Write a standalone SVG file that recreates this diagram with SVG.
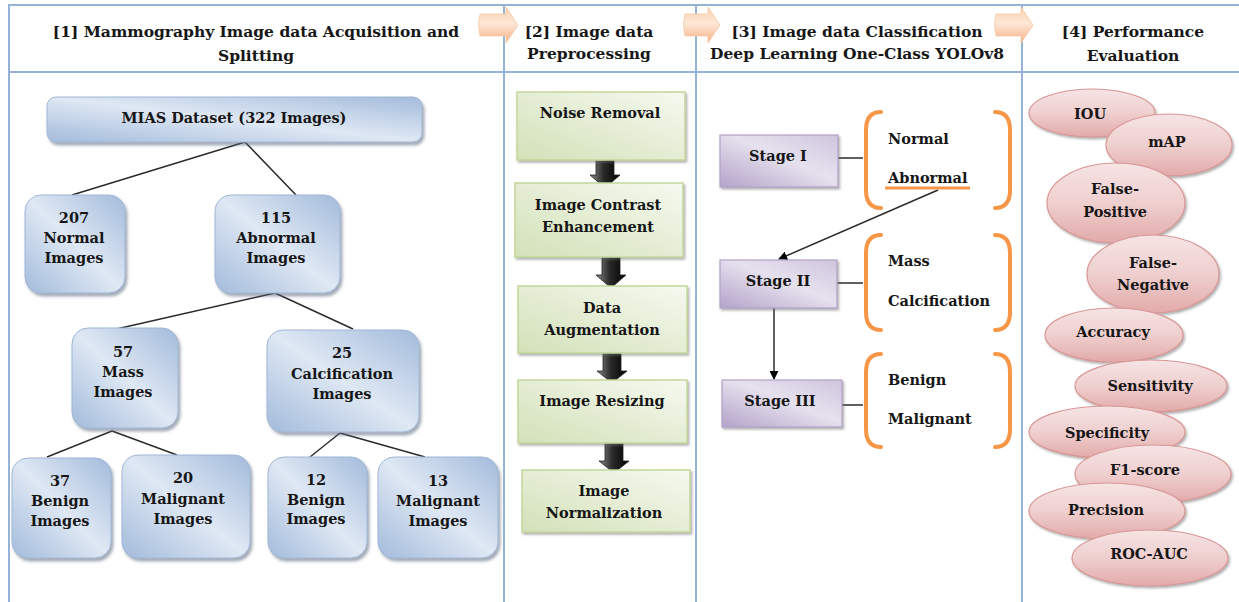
<svg xmlns="http://www.w3.org/2000/svg" width="1239" height="602" viewBox="0 0 1239 602">
<defs>
<linearGradient id="gBlue" x1="0" y1="1" x2="1" y2="0">
<stop offset="0" stop-color="#a3bbdb"/><stop offset="0.5" stop-color="#dfe8f4"/><stop offset="1" stop-color="#a3bbdb"/>
</linearGradient>
<linearGradient id="gGreen" x1="1" y1="0" x2="0" y2="1">
<stop offset="0" stop-color="#f6f9f0"/><stop offset="1" stop-color="#d3e1b8"/>
</linearGradient>
<linearGradient id="gPurple" x1="0" y1="1" x2="1" y2="0">
<stop offset="0" stop-color="#b4a3c9"/><stop offset="0.55" stop-color="#e6e1ee"/><stop offset="1" stop-color="#cfc5dd"/>
</linearGradient>
<linearGradient id="gPink" x1="0" y1="0" x2="0" y2="1">
<stop offset="0" stop-color="#f6e4e4"/><stop offset="0.5" stop-color="#efcfcf"/><stop offset="1" stop-color="#e2aaa9"/>
</linearGradient>
<linearGradient id="gPeach" x1="0" y1="0" x2="0" y2="1">
<stop offset="0" stop-color="#fbd0ad"/><stop offset="0.45" stop-color="#fde8d8"/><stop offset="1" stop-color="#f6b184"/>
</linearGradient>
<linearGradient id="gDark" x1="0" y1="0" x2="1" y2="0">
<stop offset="0" stop-color="#8a8a8a"/><stop offset="0.45" stop-color="#2a2a2a"/><stop offset="1" stop-color="#000"/>
</linearGradient>
<filter id="sh" x="-10%" y="-10%" width="125%" height="135%">
<feDropShadow dx="2" dy="3" stdDeviation="1.5" flood-color="#55657a" flood-opacity="0.55"/>
</filter>
<filter id="shs" x="-10%" y="-10%" width="125%" height="135%">
<feDropShadow dx="1.5" dy="2" stdDeviation="1" flood-color="#666" flood-opacity="0.5"/>
</filter>
<marker id="ah" viewBox="0 0 10 10" refX="9" refY="5" markerWidth="9" markerHeight="9" markerUnits="userSpaceOnUse" orient="auto">
<path d="M0,0 L10,5 L0,10 z" fill="#000"/>
</marker>
</defs>
<style>
text{font-family:"DejaVu Serif","Liberation Serif",serif;font-weight:bold;fill:#161616;font-size:14.5px;dominant-baseline:central}
.c{text-anchor:middle}
.h{font-size:15.5px}
.grid{stroke:#95b3d7;stroke-width:2;fill:none}
.blue{fill:url(#gBlue);stroke:#9fb6d6;stroke-width:1;filter:url(#sh)}
.green{fill:url(#gGreen);stroke:#c3d69b;stroke-width:1.5;filter:url(#shs)}
.purple{fill:url(#gPurple);stroke:#b3a2c7;stroke-width:1.2;filter:url(#shs)}
.pink{fill:url(#gPink);stroke:#d99795;stroke-width:1.2;filter:url(#shs)}
.peach{fill:url(#gPeach);stroke:#f5c9a6;stroke-width:0.8}
.dark{fill:url(#gDark);stroke:#222;stroke-width:0.8}
.ln{stroke:#2b2b2b;stroke-width:1.5;fill:none}
.br{stroke:#f79646;stroke-width:4;fill:none;stroke-linecap:round}
</style>
<rect width="1239" height="602" fill="#fff"/>
<g id="grid">
<line class="grid" x1="8" y1="5" x2="1239" y2="5"/>
<line class="grid" x1="8" y1="72" x2="1239" y2="72"/>
<line class="grid" x1="9" y1="4" x2="9" y2="602"/>
<line class="grid" x1="504" y1="4" x2="504" y2="602"/>
<line class="grid" x1="696" y1="4" x2="696" y2="602"/>
<line class="grid" x1="1022" y1="4" x2="1022" y2="602"/>
</g>
<g id="header-arrows">
<path class="peach" d="M480,14 L506,14 L506,7 L518,25 L506,43 L506,36 L480,36 Q477,25 480,14 z"/>
<path class="peach" d="M685,14 L708,14 L708,7 L720,25 L708,43 L708,36 L685,36 Q682,25 685,14 z"/>
<path class="peach" d="M996,14 L1021,14 L1021,7 L1033,25 L1021,43 L1021,36 L996,36 Q993,25 996,14 z"/>
</g>
<g id="headers">
<text class="c h" x="256" y="31">[1] Mammography Image data Acquisition and</text>
<text class="c h" x="256" y="55">Splitting</text>
<text class="c h" x="589" y="31">[2] Image data</text>
<text class="c h" x="589" y="53">Preprocessing</text>
<text class="c h" x="857" y="31">[3] Image data Classification</text>
<text class="c h" x="857" y="53">Deep Learning One-Class YOLOv8</text>
<text class="c h" x="1133" y="31">[4] Performance</text>
<text class="c h" x="1133" y="55">Evaluation</text>
</g>
<g id="connectors">
<line class="ln" x1="245" y1="142" x2="72" y2="195"/>
<line class="ln" x1="245" y1="142" x2="296" y2="195"/>
<line class="ln" x1="275" y1="293" x2="112" y2="330"/>
<line class="ln" x1="275" y1="293" x2="353" y2="329"/>
<line class="ln" x1="112" y1="431" x2="47" y2="457"/>
<line class="ln" x1="112" y1="431" x2="177" y2="455"/>
<line class="ln" x1="340" y1="433" x2="310" y2="457"/>
<line class="ln" x1="340" y1="433" x2="425" y2="457"/>
<line class="ln" x1="838" y1="158" x2="863" y2="158"/>
<line class="ln" x1="837" y1="283" x2="863" y2="283"/>
<line class="ln" x1="842" y1="405" x2="863" y2="405"/>
<line class="ln" x1="938" y1="190" x2="779" y2="259" marker-end="url(#ah)"/>
<line class="ln" x1="774" y1="308" x2="774" y2="379" marker-end="url(#ah)"/>
<path class="dark" d="M596,156 L614,156 L614,175 L620,175 L605,188 L590,175 L596,175 z"/>
<path class="dark" d="M602,255 L620,255 L620,275 L626,275 L611,288 L596,275 L602,275 z"/>
<path class="dark" d="M603,352 L621,352 L621,371 L627,371 L612,383 L597,371 L603,371 z"/>
<path class="dark" d="M605,442 L623,442 L623,461 L629,461 L614,473 L599,461 L605,461 z"/>
</g>
<g id="n-mias"><rect class="blue" x="47" y="97" width="375" height="45" rx="9"/><text class="c" x="234" y="117">MIAS Dataset (322 Images)</text></g>
<g id="n-normal"><rect class="blue" x="25" y="195" width="100" height="98" rx="16"/><text class="c" x="74" y="217">207</text><text class="c" x="74" y="237">Normal</text><text class="c" x="74" y="257">Images</text></g>
<g id="n-abnormal"><rect class="blue" x="215" y="195" width="125" height="98" rx="16"/><text class="c" x="276" y="217">115</text><text class="c" x="276" y="237">Abnormal</text><text class="c" x="276" y="257">Images</text></g>
<g id="n-mass"><rect class="blue" x="72" y="328" width="106" height="100" rx="16"/><text class="c" x="123" y="351">57</text><text class="c" x="123" y="371">Mass</text><text class="c" x="123" y="391">Images</text></g>
<g id="n-calc"><rect class="blue" x="267" y="330" width="152" height="102" rx="16"/><text class="c" x="342" y="352">25</text><text class="c" x="342" y="373">Calcification</text><text class="c" x="342" y="393">Images</text></g>
<g id="n-benign1"><rect class="blue" x="12" y="458" width="99" height="100" rx="16"/><text class="c" x="60" y="480">37</text><text class="c" x="60" y="500">Benign</text><text class="c" x="60" y="520">Images</text></g>
<g id="n-malig1"><rect class="blue" x="122" y="455" width="128" height="103" rx="16"/><text class="c" x="183" y="477">20</text><text class="c" x="183" y="498">Malignant</text><text class="c" x="183" y="518">Images</text></g>
<g id="n-benign2"><rect class="blue" x="268" y="457" width="99" height="101" rx="16"/><text class="c" x="316" y="479">12</text><text class="c" x="316" y="499">Benign</text><text class="c" x="316" y="518">Images</text></g>
<g id="n-malig2"><rect class="blue" x="378" y="457" width="120" height="101" rx="16"/><text class="c" x="438" y="480">13</text><text class="c" x="438" y="500">Malignant</text><text class="c" x="438" y="520">Images</text></g>
<g id="p-noise"><rect class="green" x="517" y="92" width="168" height="68"/><text class="c" x="600" y="112">Noise Removal</text></g>
<g id="p-contrast"><rect class="green" x="515" y="183" width="168" height="74"/><text class="c" x="598" y="204">Image Contrast</text><text class="c" x="598" y="226">Enhancement</text></g>
<g id="p-augment"><rect class="green" x="518" y="286" width="169" height="67"/><text class="c" x="602" y="307">Data</text><text class="c" x="602" y="329">Augmentation</text></g>
<g id="p-resize"><rect class="green" x="518" y="380" width="169" height="63"/><text class="c" x="602" y="400">Image Resizing</text></g>
<g id="p-normalize"><rect class="green" x="522" y="470" width="168" height="62"/><text class="c" x="604" y="490">Image</text><text class="c" x="604" y="512">Normalization</text></g>
<g id="s-stage1"><rect class="purple" x="720" y="135" width="118" height="52"/><text class="c" x="778" y="155">Stage I</text></g>
<g id="s-stage2"><rect class="purple" x="720" y="260" width="117" height="48"/><text class="c" x="778" y="280">Stage II</text></g>
<g id="s-stage3"><rect class="purple" x="722" y="380" width="120" height="47"/><text class="c" x="780" y="400">Stage III</text></g>
<g id="b-stage1">
<path class="br" d="M881,112 Q866,112 866,130 L866,190 Q866,208 881,208"/>
<path class="br" d="M995,112 Q1010,112 1010,130 L1010,190 Q1010,208 995,208"/>
<line x1="885" y1="188" x2="970" y2="188" stroke="#f79646" stroke-width="3"/>
<text x="888" y="138">Normal</text><text x="888" y="177">Abnormal</text>
</g>
<g id="b-stage2">
<path class="br" d="M881,235 Q866,235 866,253 L866,312 Q866,330 881,330"/>
<path class="br" d="M995,235 Q1010,235 1010,253 L1010,312 Q1010,330 995,330"/>
<text x="888" y="260">Mass</text><text x="888" y="300">Calcification</text>
</g>
<g id="b-stage3">
<path class="br" d="M881,354 Q866,354 866,372 L866,429 Q866,447 881,447"/>
<path class="br" d="M995,354 Q1010,354 1010,372 L1010,429 Q1010,447 995,447"/>
<text x="888" y="379">Benign</text><text x="888" y="418">Malignant</text>
</g>
<g id="m-iou"><ellipse class="pink" cx="1092" cy="113" rx="63" ry="24"/><text class="c" x="1090" y="113">IOU</text></g>
<g id="m-map"><ellipse class="pink" cx="1169" cy="145" rx="63" ry="31"/><text class="c" x="1167" y="141">mAP</text></g>
<g id="m-fp"><ellipse class="pink" cx="1116" cy="203" rx="69" ry="40"/><text class="c" x="1115" y="188">False-</text><text class="c" x="1115" y="211">Positive</text></g>
<g id="m-fn"><ellipse class="pink" cx="1153" cy="274" rx="66" ry="39"/><text class="c" x="1153" y="262">False-</text><text class="c" x="1153" y="284">Negative</text></g>
<g id="m-acc"><ellipse class="pink" cx="1114" cy="335" rx="69" ry="27"/><text class="c" x="1113" y="331">Accuracy</text></g>
<g id="m-sens"><ellipse class="pink" cx="1151" cy="386" rx="76" ry="26"/><text class="c" x="1150" y="385">Sensitivity</text></g>
<g id="m-spec"><ellipse class="pink" cx="1107" cy="432" rx="78" ry="26"/><text class="c" x="1107" y="432">Specificity</text></g>
<g id="m-f1"><ellipse class="pink" cx="1153" cy="474" rx="78" ry="29"/><text class="c" x="1145" y="469">F1-score</text></g>
<g id="m-prec"><ellipse class="pink" cx="1107" cy="511" rx="78" ry="28"/><text class="c" x="1106" y="509">Precision</text></g>
<g id="m-roc"><ellipse class="pink" cx="1150" cy="558" rx="78" ry="28"/><text class="c" x="1149" y="553">ROC-AUC</text></g>
</svg>
